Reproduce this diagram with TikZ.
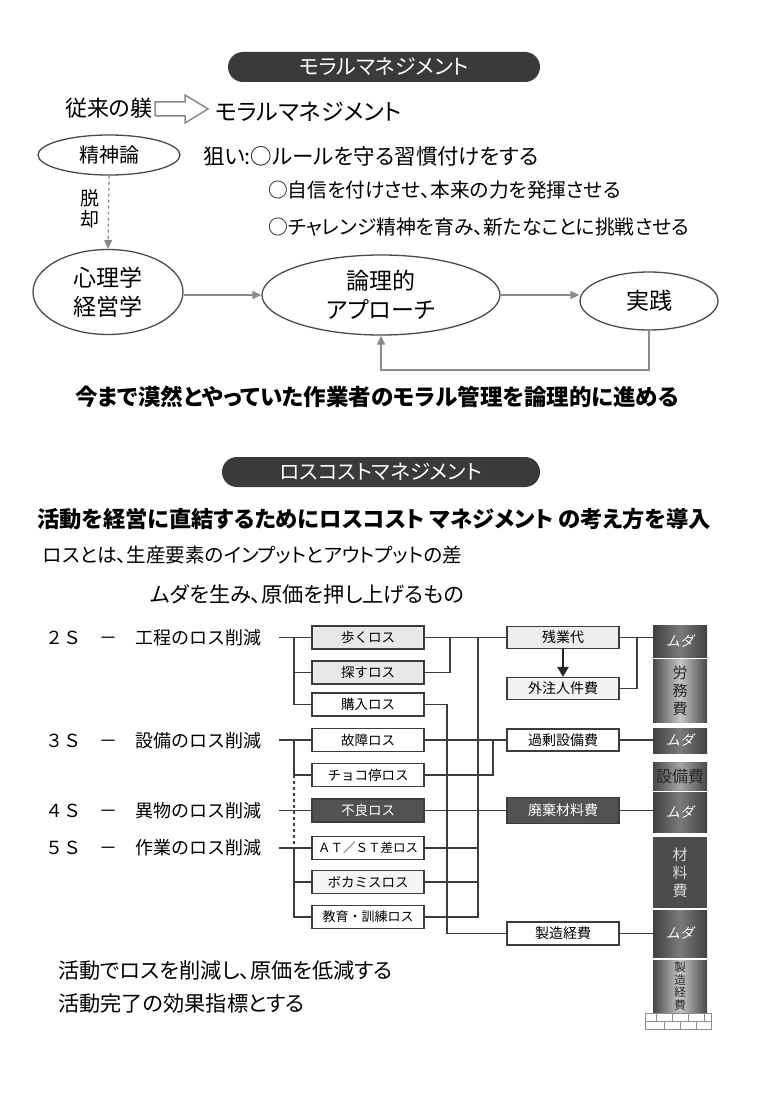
\documentclass[tikz,border=0pt]{standalone}
\usepackage{fontspec}
\setmainfont{Noto Sans CJK JP}[RawFeature=+palt]
\newfontfamily\jpfw{Noto Sans CJK JP}
\newfontfamily\slantjp{Noto Sans CJK JP}[FakeSlant=0.2]
\usetikzlibrary{shapes.geometric,arrows.meta,calc}
\definecolor{pill}{HTML}{3A3A3A}
\definecolor{ln}{HTML}{3C3C3C}
\definecolor{arr}{HTML}{8A8A8A}
\definecolor{elb}{HTML}{4A4A4A}
\newcommand{\fs}[1]{\fontsize{#1}{#1}\selectfont}
\tikzset{
  pillbox/.style={fill=pill, rounded corners=15pt, minimum height=30pt, text=white, inner sep=0pt},
  ell/.style={ellipse, draw=elb, line width=1.3pt, inner sep=0pt, align=center},
  garrow/.style={draw=arr, line width=1.3pt, -{Triangle[length=9pt,width=8pt]}},
  txt/.style={inner sep=0pt, anchor=west},
  lossbox/.style={draw=ln, line width=1.1pt, minimum width=112pt, minimum height=23pt, inner sep=0pt, font=\jpfw\fs{13.5}},
  costbox/.style={draw=ln, line width=1.1pt, minimum width=112pt, minimum height=22pt, inner sep=0pt, font=\jpfw\fs{14}},
  conn/.style={draw=ln, line width=1.1pt},
  darkfill/.style={fill=black!68, text=white},
  lightfill/.style={fill=black!9},
  colbox/.style={minimum width=54pt, inner sep=0pt, align=center, text=white},
  muda/.style={colbox, left color=black!75, right color=black!75, middle color=black!52, font=\slantjp\fs{14}},
  costcol/.style={colbox, left color=black!72, right color=black!72, middle color=black!22, text=black!85, font=\jpfw\fs{15}},
  lbl/.style={inner sep=0pt, anchor=west, font=\jpfw\fs{18}}
}
\begin{document}
\begin{tikzpicture}[x=1pt,y=-1pt]
\fill[white] (0,0) rectangle (760,1102);
\useasboundingbox (0,0) rectangle (760,1102);

% ---------- Section 1 ----------
\node[pillbox, minimum width=312pt, font=\fs{21}] (p1) at (384,67) {モラルマネジメント};
\node[txt, font=\fs{22}] (t1) at (65,108) {従来の躾};
\draw[draw=arr, line width=1.5pt, fill=white] (155,102) -- (185,102) -- (185,95) -- (208,109) -- (185,123) -- (185,116) -- (155,116) -- cycle;
\node[txt, font=\fs{23}] (t2) at (215,112) {モラルマネジメント};

\node[ell, minimum width=142pt, minimum height=40pt, font=\fs{20}] (e1) at (109,155) {精神論};
\node[txt, font=\fs{21.5}] (t3) at (203,156) {狙い:○ルールを守る習慣付けをする};
\node[txt, font=\fs{19.7}] (t4) at (268,190) {○自信を付けさせ、本来の力を発揮させる};
\node[txt, font=\fs{19.8}] (t5) at (268,227) {○チャレンジ精神を育み、新たなことに挑戦させる};
\node[inner sep=0pt, align=center, font=\fontsize{19}{21}\selectfont] (dk) at (90,209) {脱\\却};

\node[ell, minimum width=150pt, minimum height=85pt, font=\fontsize{23}{29}\selectfont] (e2) at (108,292) {心理学\\経営学};
\node[ell, minimum width=238pt, minimum height=80pt, font=\fontsize{23}{29}\selectfont] (e3) at (381,295) {論理的\\アプローチ};
\node[ell, minimum width=138pt, minimum height=58pt, font=\fs{23}] (e4) at (649,301) {実践};
\coordinate (fb) at (0,370);

\draw[garrow, dashed] (e1.south) -- (e2.north);
\draw[garrow] (e2.east |- e3.west) -- (e3.west);
\draw[garrow] (e3.east) -- (e4.west |- e3.east);
\draw[garrow] (e4.south) -- (e4.south |- fb) -| (e3.south);

\node[txt, font=\bfseries\fs{22.5}] (t6) at (75,397) {今まで漠然とやっていた作業者のモラル管理を論理的に進める};

% ---------- Section 2 ----------
\node[pillbox, minimum width=318pt, font=\fs{20.5}] (p2) at (381,472) {ロスコストマネジメント};
\node[txt, font=\bfseries\fs{22.3}] (t7) at (37,519) {活動を経営に直結するためにロスコスト マネジメント の考え方を導入};
\node[txt, font=\fs{19.6}] (t8) at (43,555) {ロスとは、生産要素のインプットとアウトプットの差};
\node[txt, font=\fs{21.2}] (t9) at (150,594) {ムダを生み、原価を押し上げるもの};

% labels
\node[lbl] (l2) at (45,638) {２Ｓ　－　工程のロス削減};
\node[lbl] (l3) at (45,741) {３Ｓ　－　設備のロス削減};
\node[lbl] (l4) at (45,811) {４Ｓ　－　異物のロス削減};
\node[lbl] (l5) at (45,848) {５Ｓ　－　作業のロス削減};

% loss boxes
\node[lossbox, lightfill] (a1) at (368,637.5) {歩くロス};
\node[lossbox, lightfill] (a2) at (368,672.5) {探すロス};
\node[lossbox] (a3) at (368,704.5) {購入ロス};
\node[lossbox] (a4) at (368,740) {故障ロス};
\node[lossbox] (a5) at (368,775) {チョコ停ロス};
\node[lossbox, darkfill] (a6) at (368,810.5) {不良ロス};
\node[lossbox, font=\jpfw\fs{12.5}] (a7) at (368,848) {ＡＴ／ＳＴ差ロス};
\node[lossbox, fill=black!4] (a8) at (368,882) {ボカミスロス};
\node[lossbox, font=\jpfw\fs{13}] (a9) at (368,917) {教育・訓練ロス};

% cost boxes
\node[costbox, fill=black!7] (c1) at (563,637.5) {残業代};
\node[costbox, fill=black!5] (c2) at (563,688.5) {外注人件費};
\node[costbox] (c3) at (563,740) {過剰設備費};
\node[costbox, darkfill, minimum height=26pt] (c4) at (563,810.5) {廃棄材料費};
\node[costbox, minimum height=23pt] (c5) at (563,933.5) {製造経費};

% right column
\node[muda, minimum height=32pt] (r1) at (680,641) {ムダ};
\node[costcol, minimum height=63pt, font=\jpfw\fontsize{15}{18}\selectfont] (r2) at (680,690.5) {労\\務\\費};
\node[muda, minimum height=25pt] (r3) at (680,740.5) {ムダ};
\node[costcol, minimum height=28pt, font=\jpfw\fs{16}, middle color=black!35] (r4) at (680,776) {設備費};
\node[muda, minimum height=40pt] (r5) at (680,812) {ムダ};
\node[colbox, minimum height=71pt, fill=black!70, text=black!15, font=\jpfw\fontsize{15}{18}\selectfont] (r6) at (680,872.5) {材\\料\\費};
\node[muda, minimum height=47pt] (r7) at (680,933.5) {ムダ};
\node[costcol, minimum height=52pt, font=\jpfw\fontsize{11.5}{12.5}\selectfont] (r8) at (680,986) {製\\造\\経\\費};
% base bricks
\draw[black!45, line width=0.6pt] (645,1013) rectangle (711,1029) (645,1021) -- (711,1021)
  (656,1013) -- (656,1021) (672,1013) -- (672,1021) (688,1013) -- (688,1021) (704,1013) -- (704,1021)
  (664,1021) -- (664,1029) (680,1021) -- (680,1029) (696,1021) -- (696,1029);

% junction coordinates
\coordinate (ls) at (279,0);
\coordinate (tr) at (294,0);
\coordinate (j3) at (447,0);
\coordinate (j1) at (450,0);
\coordinate (jb) at (478,0);
\coordinate (j5) at (493,0);
\coordinate (jr) at (637,0);

% left connectors
\draw[conn] (ls |- a1.west) -- (a1.west);
\draw[conn] (tr |- a1.west) |- (a3.west);
\draw[conn] (tr |- a2.west) -- (a2.west);
\draw[conn] (ls |- a4.west) -- (a4.west);
\draw[conn] (tr |- a4.west) |- (a5.west);
\draw[conn, dashed] (tr |- a5.west) -- (tr |- a7.west);
\draw[conn] (ls |- a6.west) -- (a6.west);
\draw[conn] (ls |- a7.west) -- (a7.west);
\draw[conn] (tr |- a7.west) |- (a9.west);
\draw[conn] (tr |- a8.west) -- (a8.west);

% middle connectors
\draw[conn] (a1.east) -- (c1.west);
\draw[conn] (a2.east) -| (j1 |- a1.east);
\draw[conn] (a3.east) -| (j3 |- c5.west) -- (c5.west);
\draw[conn] (jb |- c1.west) |- (a9.east);
\draw[conn] (a7.east) -- (jb |- a7.east);
\draw[conn] (a8.east) -- (jb |- a8.east);
\draw[conn] (a4.east) -- (c3.west);
\draw[conn] (a5.east) -| (j5 |- c3.west);
\draw[conn] (a6.east) -- (c4.west);
\draw[line width=2.2pt, black!85, -{Triangle[length=10pt,width=11pt]}] (c1.south) -- (c2.north);

% right connectors
\draw[conn] (c1.east) -- (r1.west |- c1.east);
\draw[conn] (c2.east) -| (jr |- c1.east);
\draw[conn] (c3.east) -- (r3.west |- c3.east);
\draw[conn] (c4.east) -- (r5.west |- c4.east);
\draw[conn] (c5.east) -- (r7.west |- c5.east);

\node[txt, font=\fs{21.2}] (t10) at (58,970) {活動でロスを削減し、原価を低減する};
\node[txt, font=\fs{21.2}] (t11) at (58,1003) {活動完了の効果指標とする};
\end{tikzpicture}
\end{document}
